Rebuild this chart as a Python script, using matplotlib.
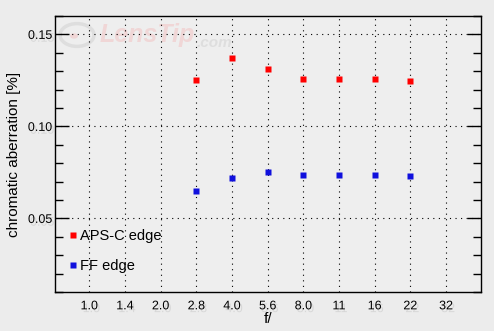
import matplotlib
matplotlib.use("Agg")
import matplotlib.pyplot as plt
import matplotlib.patheffects as pe
from matplotlib.ticker import MultipleLocator

# data
apertures = ["1.0", "1.4", "2.0", "2.8", "4.0", "5.6", "8.0", "11", "16", "22", "32"]
measured = ["2.8", "4.0", "5.6", "8.0", "11", "16", "22"]
apsc_edge = [0.1254, 0.1373, 0.1314, 0.1259, 0.1259, 0.1259, 0.1248]
ff_edge = [0.0651, 0.0721, 0.0754, 0.0738, 0.0738, 0.0738, 0.0732]

plt.rcParams['font.family'] = ['Liberation Sans', 'DejaVu Sans']

bg = "#ececec"
fig = plt.figure(figsize=(4.94, 3.31), dpi=100, facecolor=bg)
ax = fig.add_axes([55 / 494, 1 - 292 / 331, 426 / 494, 276 / 331])
ax.set_facecolor("#eeeeee")

# faint watermark (behind the data)
ax.text(100 / 494, 1 - 35 / 331, "LensTip", transform=fig.transFigure, color="#f0d6d6", fontsize=18,
        fontweight="bold", fontstyle="italic", va="center", ha="left", zorder=0.5)
ax.text(197 / 494, 1 - 43 / 331, ".com", transform=fig.transFigure, color="#dedede", fontsize=11,
        fontweight="bold", fontstyle="italic", va="center", ha="left", zorder=0.5)
circle = plt.Circle((77 / 494, 1 - 35 / 331), 17 / 494, transform=fig.transFigure, fill=False,
                    ec="#dedede", lw=2.5, zorder=0.5)
ax.add_artist(circle)
dot = plt.Circle((74 / 494, 1 - 36 / 331), 4 / 494, transform=fig.transFigure, fc="#f0d6d6",
                 ec="none", zorder=0.5)
ax.add_artist(dot)

xpos = [apertures.index(a) for a in measured]
ax.plot(xpos, apsc_edge, ls="none", marker="s", ms=4.3, color="#ff0000", mec="none", label="APS-C edge", zorder=5)
ax.plot(xpos, ff_edge, ls="none", marker="s", ms=4.3, color="#1010dd", mec="none", label="FF edge", zorder=5)

ax.set_xlim(-0.96, 10.98)
ax.set_ylim(0.01, 0.16)
ax.set_xticks(range(len(apertures)))
ax.set_xticklabels(apertures)
ax.yaxis.set_major_locator(MultipleLocator(0.05))
ax.yaxis.set_minor_locator(MultipleLocator(0.01))
ax.yaxis.set_major_formatter(matplotlib.ticker.FormatStrFormatter("%.2f"))

ax.grid(True, which="major", color="black", lw=0.8, ls=(0, (1, 4)))
ax.tick_params(axis="x", length=0, pad=6, labelsize=9)
ax.tick_params(axis="y", which="major", direction="in", length=10, width=1, left=True, right=True, labelsize=9, pad=2)
ax.tick_params(axis="y", which="minor", direction="in", length=5.8, width=1, left=True, right=True)
for s in ax.spines.values():
    s.set_linewidth(1.0)

shadow = [pe.SimplePatchShadow(offset=(1.5, -2), shadow_rgbFace="#999999", alpha=0.25), pe.Normal()]
for lab in ax.get_xticklabels() + ax.get_yticklabels():
    lab.set_path_effects(shadow)

ax.set_ylabel("chromatic aberration [%]", fontsize=11, labelpad=5)
ax.set_xlabel("f/", fontsize=11, labelpad=0)

ax.legend(loc="lower left", bbox_to_anchor=(0.0, 0.02), frameon=False, fontsize=10.5,
          handlelength=0.6, handletextpad=0.2, labelspacing=1.1, borderaxespad=0.5)

fig.savefig("out.png", dpi=100, facecolor=bg)
